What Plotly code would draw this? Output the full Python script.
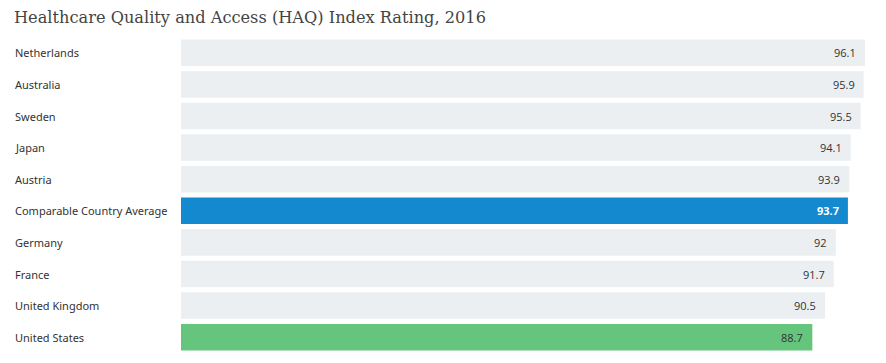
import plotly.graph_objects as go

countries = ["Netherlands", "Australia", "Sweden", "Japan", "Austria",
             "Comparable Country Average", "Germany", "France",
             "United Kingdom", "United States"]
values = [96.1, 95.9, 95.5, 94.1, 93.9, 93.7, 92, 91.7, 90.5, 88.7]
labels = ["96.1", "95.9", "95.5", "94.1", "93.9", "93.7", "92", "91.7", "90.5", "88.7"]

colors = []
for c in countries:
    if c == "Comparable Country Average":
        colors.append("#1589cf")
    elif c == "United States":
        colors.append("#65c57c")
    else:
        colors.append("#ebeff2")

fig = go.Figure()
fig.add_trace(go.Bar(
    x=values, y=countries, orientation="h",
    marker=dict(color=colors, line=dict(width=0)),
    hoverinfo="skip",
))

L, R = 181, 21
plot_w = 886 - L - R
for c, v, t in zip(countries, values, labels):
    avg = c == "Comparable Country Average"
    fig.add_annotation(x=v, y=c, xref="x", yref="y", text=t, showarrow=False,
                       xanchor="right", xshift=-7,
                       font=dict(family="Open Sans, Noto Sans, sans-serif", size=11,
                                 color="#ffffff" if avg else "#333333",
                                 weight="bold" if avg else "normal"))
    fig.add_annotation(x=-(L - 13) / plot_w, y=c, xref="paper", yref="y", text=c,
                       showarrow=False, xanchor="left",
                       font=dict(family="Noto Sans, Roboto, sans-serif", size=11, color="#333333"))

fig.update_layout(
    width=886, height=363,
    margin=dict(l=L, r=R, t=37, b=10),
    paper_bgcolor="white", plot_bgcolor="white",
    bargap=0.16,
    showlegend=False,
    title=dict(text="Healthcare Quality and Access (HAQ) Index Rating, 2016",
               x=14 / 886, xanchor="left", y=1 - 17 / 363, yanchor="middle",
               font=dict(family="DejaVu Serif, serif", size=16.2, color="#444444")),
    xaxis=dict(range=[0, 96.1], showgrid=False, zeroline=False, showticklabels=False,
               fixedrange=True),
    yaxis=dict(autorange="reversed", showgrid=False, showticklabels=False,
               fixedrange=True),
)

fig.write_html("out.html", config={"displayModeBar": False},
               post_script="document.body.style.margin='0';")
